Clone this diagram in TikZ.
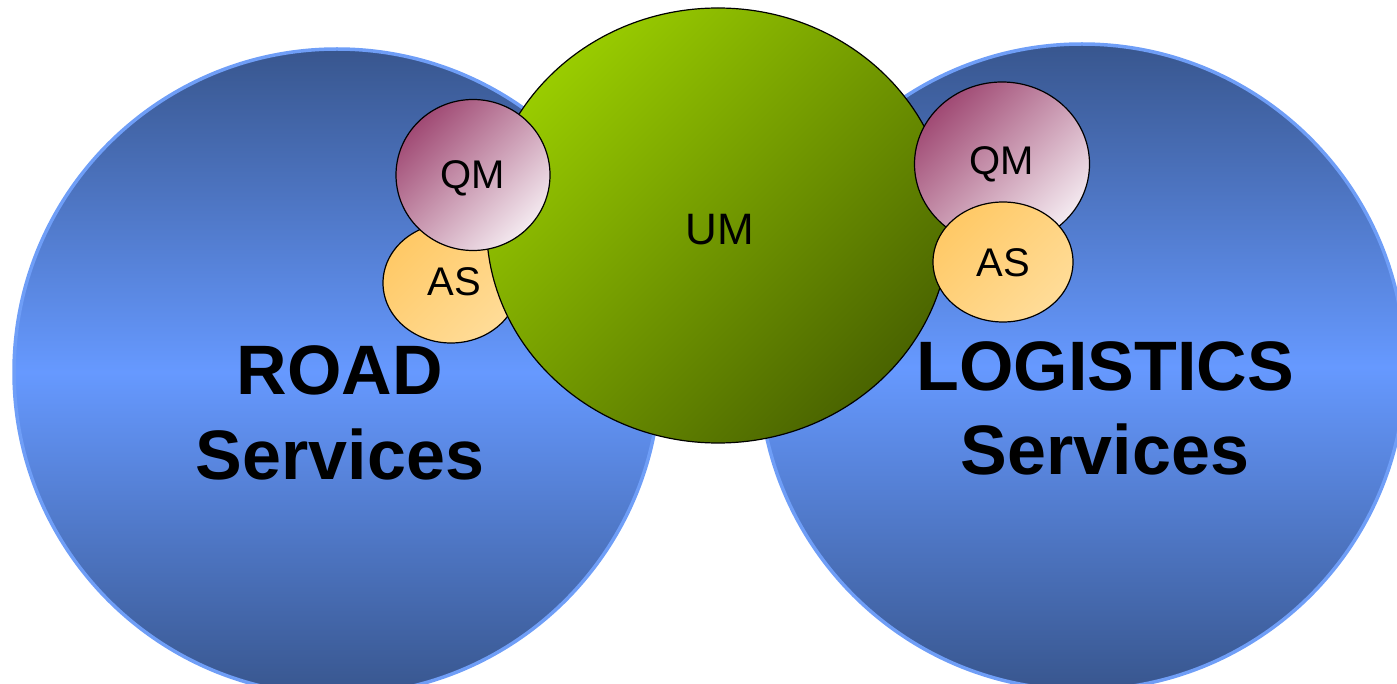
\documentclass[tikz,border=0pt]{standalone}
\usepackage{fontspec}
\setmainfont{Liberation Sans}
\usetikzlibrary{shapes.geometric}
\definecolor{bluedark}{HTML}{38568E}
\definecolor{bluelight}{HTML}{6699FF}
\definecolor{blueedge}{HTML}{6F9EF7}
\definecolor{greenlight}{HTML}{99CC00}
\definecolor{greendark}{HTML}{4A6400}
\definecolor{qmdark}{HTML}{A04A74}
\definecolor{qmlight}{HTML}{F4EAF0}
\definecolor{asdark}{HTML}{FFC966}
\definecolor{aslight}{HTML}{FFDC98}
\begin{document}
\begin{tikzpicture}[x=1pt,y=-1pt,
  bigcirc/.style={circle, draw=blueedge, line width=3.5pt, minimum size=646pt, inner sep=0pt,
    top color=bluedark, bottom color=bluedark, middle color=bluelight},
  umnode/.style={ellipse, draw=black, line width=1.2pt, minimum width=463pt, minimum height=435pt, inner sep=0pt,
    top color=greenlight, bottom color=greendark, shading angle=45},
  qmnode/.style={ellipse, draw=black, line width=1.2pt, inner sep=0pt,
    top color=qmdark, bottom color=qmlight, shading angle=45},
  asnode/.style={ellipse, draw=black, line width=1.2pt, inner sep=0pt,
    top color=asdark, bottom color=aslight, shading angle=45},
  smalltext/.style={inner sep=0pt, font=\fontsize{40}{48}\selectfont},
  bigtext/.style={anchor=base, inner sep=0pt, font=\fontsize{70}{84}\selectfont\bfseries}
]
\useasboundingbox (0,0) rectangle (1397,684);
\node[bigcirc] (road) at (337,372) {};
\node[bigcirc] (logi) at (1082,367) {};
\node[asnode, minimum width=136pt, minimum height=120pt] (as1) at (451,283) {};
\node[umnode] (um) at (718,225.5) {};
\node[qmnode, minimum width=154pt, minimum height=151pt] (qm1) at (473,175) {};
\node[qmnode, minimum width=175pt, minimum height=164pt] (qm2) at (1002,164) {};
\node[asnode, minimum width=140pt, minimum height=120pt] (as2) at (1003,262) {};
\node[smalltext] (as1t) at (454,282) {AS};
\node[smalltext, font=\fontsize{44}{52}\selectfont] (umt) at (720,230) {UM};
\node[smalltext] (qm1t) at (473,178) {QM};
\node[smalltext] (qm2t) at (1002,164) {QM};
\node[smalltext] (as2t) at (1003,263) {AS};
\node[bigtext] (roadt1) at (340,395) {ROAD};
\node[bigtext] (roadt2) at (340,479) {Services};
\node[bigtext] (logit1) at (1105,390) {LOGISTICS};
\node[bigtext] (logit2) at (1105,474) {Services};
\end{tikzpicture}
\end{document}
